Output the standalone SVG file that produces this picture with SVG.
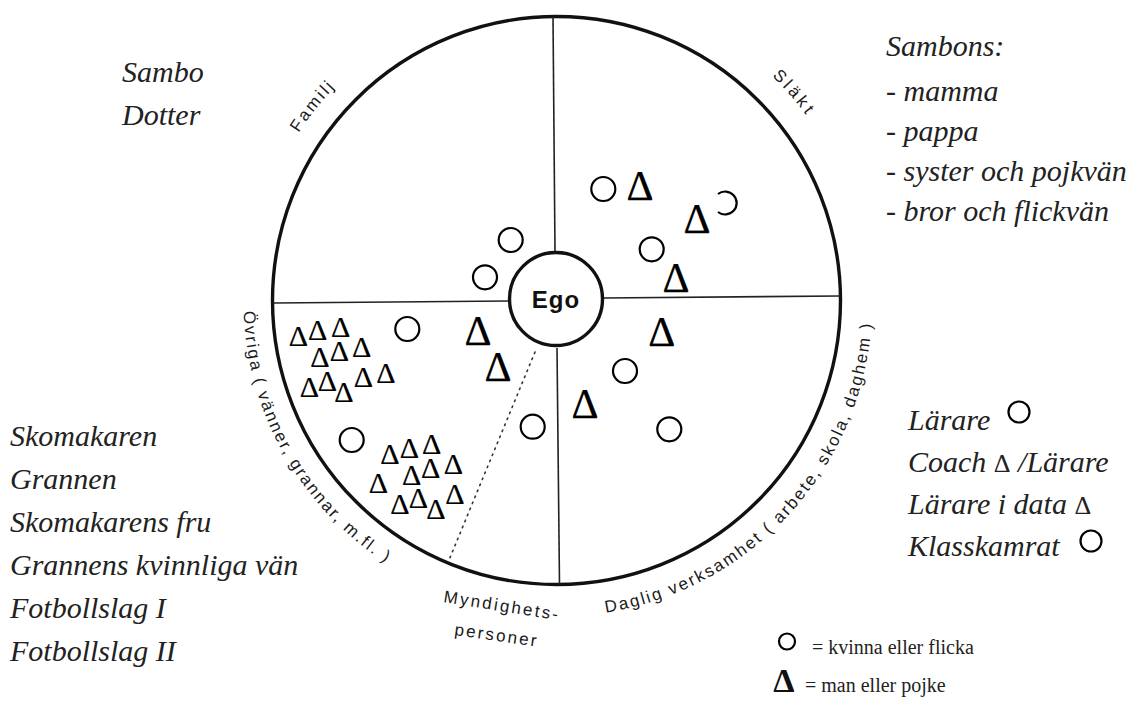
<svg xmlns="http://www.w3.org/2000/svg" xmlns:xlink="http://www.w3.org/1999/xlink" width="1134" height="706" viewBox="0 0 1134 706">
<style>
.ring{fill:none;stroke:#111;stroke-width:3.4}
.div{fill:none;stroke:#222;stroke-width:1.6}
.dot{fill:none;stroke:#333;stroke-width:1.6;stroke-dasharray:1.5 5;stroke-linecap:round}
.arc{font-family:"Liberation Sans",Arial,sans-serif;font-size:17px;fill:#1a1a1a;letter-spacing:2.2px}
.ego{font-family:"Liberation Sans",Arial,sans-serif;font-size:24px;font-weight:bold;fill:#111;letter-spacing:1px}
.f{fill:none;stroke:#000;stroke-width:2.2}
.m{font-family:"Liberation Serif","Times New Roman",serif;font-size:42px;text-anchor:middle;fill:#000;stroke:#000;stroke-width:0.25}
.ms{font-family:"Liberation Serif","Times New Roman",serif;font-size:30px;text-anchor:middle;fill:#000;stroke:#000;stroke-width:0.2}
.it{font-family:"Liberation Serif","Times New Roman",serif;font-style:italic;font-size:30px;fill:#222}
.lg{font-family:"Liberation Serif","Times New Roman",serif;font-size:20px;fill:#222}
.lgd{font-family:"Liberation Serif","Times New Roman",serif;font-size:34px;font-weight:bold;text-anchor:middle;fill:#111}
.up{font-style:normal}
</style>
<defs>
<path id="pFamilj" d="M252.5,254.1 A307,307 0 0 1 444.0,14.2"/>
<path id="pSlakt" d="M657.3,5.9 A311,311 0 0 1 861.3,240.7"/>
<path id="pOvriga" d="M243.7,311.4 A313,313 0 0 0 409.6,576.9"/>
<path id="pDaglig" d="M605.9,612.6 A316,316 0 0 0 872.3,289.5"/>
</defs>

<g id="network-circle">
<circle class="ring" cx="556.5" cy="300.5" r="284"/>
</g>

<g id="connectors">
<line class="div" x1="553" y1="17" x2="555" y2="252"/>
<line class="div" x1="557" y1="348" x2="559.5" y2="584"/>
<line class="div" x1="274" y1="303" x2="509" y2="301"/>
<line class="div" x1="603" y1="298" x2="840" y2="296"/>
<line class="dot" x1="535" y1="352" x2="449" y2="560"/>
</g>

<g id="ego">
<circle class="ring" cx="556" cy="299" r="46.5" fill="#fff"/>
<text class="ego" x="556" y="308" text-anchor="middle">Ego</text>
</g>

<g id="sector-familj">
<text class="arc" style="letter-spacing:2.5px"><textPath xlink:href="#pFamilj" href="#pFamilj" startOffset="50%" text-anchor="middle">Familj</textPath></text>
</g>
<g id="sector-slakt">
<text class="arc" style="letter-spacing:3.4px"><textPath xlink:href="#pSlakt" href="#pSlakt" startOffset="50%" text-anchor="middle">Släkt</textPath></text>
</g>
<g id="sector-ovriga">
<text class="arc" style="letter-spacing:2px"><textPath xlink:href="#pOvriga" href="#pOvriga">Övriga ( vänner, grannar, m.fl. )</textPath></text>
</g>
<g id="sector-daglig">
<text class="arc" style="letter-spacing:2.1px"><textPath xlink:href="#pDaglig" href="#pDaglig">Daglig verksamhet ( arbete, skola, daghem )</textPath></text>
</g>
<g id="sector-myndighet">
<text class="arc" style="letter-spacing:2.3px" transform="rotate(9 443 602)" x="443" y="602">Myndighets-</text>
<text class="arc" style="letter-spacing:2.2px" transform="rotate(8 454 635)" x="454" y="635">personer</text>
</g>

<g id="symbols-familj">
<circle class="f" cx="510.7" cy="240" r="12"/>
<circle class="f" cx="485" cy="277.3" r="12"/>
</g>

<g id="symbols-slakt">
<circle class="f" cx="603.3" cy="189" r="12"/>
<text class="m" x="640" y="200">Δ</text>
<path class="f" d="M718,194 A11.5,11.5 0 1 1 718,212"/>
<text class="m" x="697" y="233">Δ</text>
<circle class="f" cx="651.7" cy="249.3" r="12"/>
<text class="m" x="676" y="292">Δ</text>
</g>

<g id="symbols-daglig">
<text class="m" x="661.7" y="346">Δ</text>
<circle class="f" cx="625" cy="371" r="12"/>
<text class="m" x="585" y="418">Δ</text>
<circle class="f" cx="669.3" cy="429.3" r="12"/>
</g>

<g id="symbols-myndighet">
<circle class="f" cx="532.7" cy="426.7" r="12"/>
</g>

<g id="symbols-ovriga">
<circle class="f" cx="407.3" cy="329" r="12"/>
<text class="m" x="478" y="345">Δ</text>
<text class="m" x="498" y="381">Δ</text>
<circle class="f" cx="351.7" cy="440" r="12"/>
<g id="cluster-1">
<text class="ms" x="298.3" y="346">Δ</text>
<text class="ms" x="317.7" y="340">Δ</text>
<text class="ms" x="340.7" y="336.7">Δ</text>
<text class="ms" x="320" y="366.7">Δ</text>
<text class="ms" x="339.3" y="360.7">Δ</text>
<text class="ms" x="361.7" y="356.7">Δ</text>
<text class="ms" x="386" y="382.7">Δ</text>
<text class="ms" x="363.3" y="386.7">Δ</text>
<text class="ms" x="309.3" y="396.7">Δ</text>
<text class="ms" x="327.3" y="390.7">Δ</text>
<text class="ms" x="344" y="401.7">Δ</text>
</g>
<g id="cluster-2">
<text class="ms" x="390" y="464.3">Δ</text>
<text class="ms" x="409.3" y="458.3">Δ</text>
<text class="ms" x="431.7" y="454">Δ</text>
<text class="ms" x="453.3" y="474">Δ</text>
<text class="ms" x="430.7" y="478.3">Δ</text>
<text class="ms" x="411.7" y="485">Δ</text>
<text class="ms" x="378.3" y="493.3">Δ</text>
<text class="ms" x="400" y="514">Δ</text>
<text class="ms" x="418.3" y="508.3">Δ</text>
<text class="ms" x="436" y="519.3">Δ</text>
<text class="ms" x="455" y="504">Δ</text>
</g>
</g>

<g id="list-familj">
<text class="it" x="122" y="82">Sambo</text>
<text class="it" x="122" y="125">Dotter</text>
</g>

<g id="list-slakt">
<text class="it" x="886" y="56">Sambons:</text>
<text class="it" x="886" y="101">- mamma</text>
<text class="it" x="886" y="141">- pappa</text>
<text class="it" x="886" y="181">- syster och pojkvän</text>
<text class="it" x="886" y="221">- bror och flickvän</text>
</g>

<g id="list-ovriga">
<text class="it" x="10" y="446">Skomakaren</text>
<text class="it" x="10" y="489">Grannen</text>
<text class="it" x="10" y="532">Skomakarens fru</text>
<text class="it" x="10" y="575">Grannens kvinnliga vän</text>
<text class="it" x="10" y="618">Fotbollslag I</text>
<text class="it" x="10" y="661">Fotbollslag II</text>
</g>

<g id="list-daglig">
<text class="it" x="908" y="430">Lärare</text>
<circle class="f" cx="1019" cy="412" r="10.5"/>
<text class="it" x="908" y="472">Coach <tspan class="up" font-size="26">Δ</tspan> /Lärare</text>
<text class="it" x="908" y="514">Lärare i data <tspan class="up" font-size="26">Δ</tspan></text>
<text class="it" x="908" y="556">Klasskamrat</text>
<circle class="f" cx="1091" cy="541" r="10.5"/>
</g>

<g id="legend">
<circle class="f" cx="787" cy="641.5" r="8"/>
<text class="lg" x="812" y="654">= kvinna eller flicka</text>
<text class="lgd" x="784" y="692">Δ</text>
<text class="lg" x="805" y="692">= man eller pojke</text>
</g>
</svg>
